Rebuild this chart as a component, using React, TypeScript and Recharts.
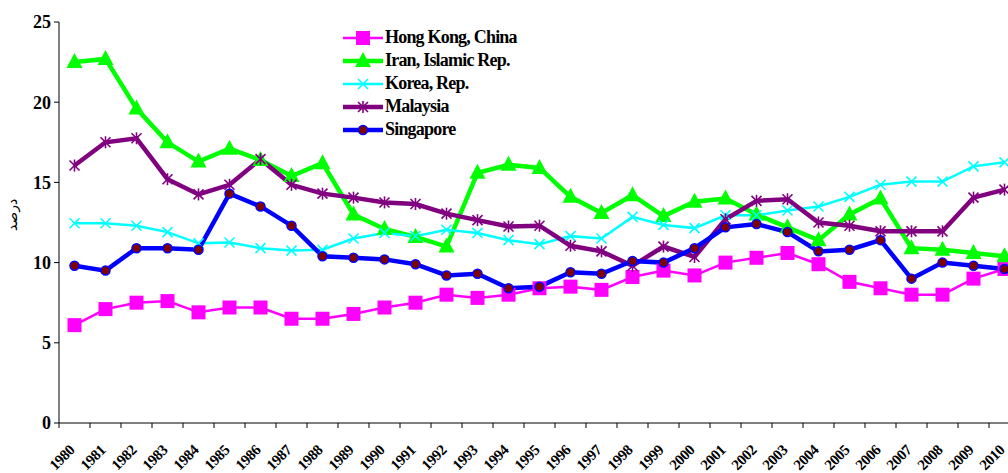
import React from "react";
import { LineChart, Line, XAxis, YAxis } from "recharts";

const years = [
  "1980", "1981", "1982", "1983", "1984", "1985", "1986", "1987", "1988", "1989",
  "1990", "1991", "1992", "1993", "1994", "1995", "1996", "1997", "1998", "1999",
  "2000", "2001", "2002", "2003", "2004", "2005", "2006", "2007", "2008", "2009", "2010",
];

const hongKong = [
  6.1, 7.1, 7.5, 7.6, 6.9, 7.2, 7.2, 6.5, 6.5, 6.8,
  7.2, 7.5, 8.0, 7.8, 8.0, 8.4, 8.5, 8.3, 9.1, 9.5,
  9.2, 10.0, 10.3, 10.6, 9.9, 8.8, 8.4, 8.0, 8.0, 9.0, 9.6,
];
const iran = [
  22.5, 22.7, 19.6, 17.5, 16.3, 17.1, 16.4, 15.4, 16.2, 13.0,
  12.1, 11.6, 11.0, 15.6, 16.1, 15.9, 14.1, 13.1, 14.2, 12.9,
  13.8, 14.0, 13.0, 12.2, 11.4, 13.0, 14.0, 10.9, 10.8, 10.6, 10.4,
];
const korea = [
  12.45, 12.45, 12.3, 11.9, 11.2, 11.25, 10.9, 10.75, 10.8, 11.5,
  11.85, 11.65, 12.05, 11.85, 11.4, 11.15, 11.65, 11.5, 12.85, 12.35,
  12.15, 12.95, 12.95, 13.25, 13.5, 14.1, 14.85, 15.05, 15.05, 16.0, 16.25,
];
const malaysia = [
  16.05, 17.5, 17.75, 15.2, 14.25, 14.85, 16.45, 14.85, 14.3, 14.05,
  13.75, 13.65, 13.05, 12.65, 12.25, 12.3, 11.05, 10.7, 9.8, 11.0,
  10.35, 12.7, 13.85, 13.95, 12.5, 12.3, 11.95, 11.95, 11.95, 14.05, 14.55,
];
const singapore = [
  9.8, 9.5, 10.9, 10.9, 10.8, 14.3, 13.5, 12.3, 10.4, 10.3,
  10.2, 9.9, 9.2, 9.3, 8.4, 8.5, 9.4, 9.3, 10.1, 10.0,
  10.9, 12.2, 12.4, 11.9, 10.7, 10.8, 11.4, 9.0, 10.0, 9.8, 9.6,
];

const yTicks = [0, 5, 10, 15, 20, 25];

const series = [
  { key: "hk", name: "Hong Kong, China", values: hongKong, color: "#FF00FF", width: 2.5, marker: "square" },
  { key: "ir", name: "Iran, Islamic Rep.", values: iran, color: "#00FF00", width: 4.5, marker: "triangle" },
  { key: "kr", name: "Korea, Rep.", values: korea, color: "#00FFFF", width: 2.5, marker: "cross" },
  { key: "my", name: "Malaysia", values: malaysia, color: "#800080", width: 4.5, marker: "star" },
  { key: "sg", name: "Singapore", values: singapore, color: "#0000FF", width: 4.5, marker: "dot" },
];

const data = years.map((year, i) => {
  const row: any = { year };
  series.forEach((s) => (row[s.key] = s.values[i]));
  return row;
});

const serif = '"Liberation Serif", "Times New Roman", serif';
const BAND = 31; // plot width / number of years
const AXIS_Y = 423;

function marker(type: string, color: string, cx: number, cy: number, key?: any) {
  switch (type) {
    case "square":
      return <rect key={key} x={cx - 7} y={cy - 7} width={14} height={14} fill={color} />;
    case "triangle":
      return (
        <polygon key={key} points={`${cx},${cy - 9} ${cx - 8},${cy + 6} ${cx + 8},${cy + 6}`} fill={color} />
      );
    case "cross":
      return (
        <g key={key} stroke={color} strokeWidth={1.6}>
          <line x1={cx - 5} y1={cy - 5} x2={cx + 5} y2={cy + 5} />
          <line x1={cx - 5} y1={cy + 5} x2={cx + 5} y2={cy - 5} />
        </g>
      );
    case "star":
      return (
        <g key={key} stroke={color} strokeWidth={1.6}>
          <line x1={cx - 5} y1={cy - 5} x2={cx + 5} y2={cy + 5} />
          <line x1={cx - 5} y1={cy + 5} x2={cx + 5} y2={cy - 5} />
          <line x1={cx} y1={cy - 6} x2={cx} y2={cy + 6} />
        </g>
      );
    default:
      return <circle key={key} cx={cx} cy={cy} r={4.5} fill="#800000" stroke="#0000FF" strokeWidth={1.5} />;
  }
}

const YearTick = (props: any) => {
  const { x, payload } = props;
  return (
    <g>
      <line x1={x - BAND / 2} y1={AXIS_Y} x2={x - BAND / 2} y2={AXIS_Y + 5} stroke="#000" />
      <text
        x={0}
        y={0}
        transform={`translate(${x + 1},${AXIS_Y + 28}) rotate(-45)`}
        textAnchor="end"
        fontFamily={serif}
        fontWeight="bold"
        fontSize={15}
        letterSpacing={-0.4}
        fill="#000"
      >
        {payload.value}
      </text>
    </g>
  );
};

const LegendBox = () => (
  <div
    style={{
      position: "absolute",
      left: 342,
      top: 26,
      fontFamily: serif,
      fontWeight: "bold",
      fontSize: 18,
      letterSpacing: -0.8,
      color: "#000",
    }}
  >
    {series.map((s) => (
      <div key={s.key} style={{ display: "flex", alignItems: "center", height: 23 }}>
        <svg width={42} height={20} style={{ marginRight: 1 }}>
          <line x1={1} y1={10} x2={41} y2={10} stroke={s.color} strokeWidth={s.width} />
          {marker(s.marker, s.color, 21, 10)}
        </svg>
        <span>{s.name}</span>
      </div>
    ))}
  </div>
);

export default function App() {
  return (
    <div style={{ position: "absolute", left: 0, top: 0, width: 1008, height: 473, overflow: "hidden", background: "#fff" }}>
      <LineChart width={1020} height={473} data={data} margin={{ top: 22, right: 0, bottom: 0, left: 0 }}>
        <XAxis
          dataKey="year"
          scale="band"
          height={50}
          interval={0}
          tickLine={false}
          axisLine={{ stroke: "#000" }}
          tick={<YearTick />}
        />
        <YAxis
          width={59}
          domain={[0, 25]}
          ticks={yTicks}
          tickSize={5}
          tickMargin={3}
          axisLine={{ stroke: "#000" }}
          tickLine={{ stroke: "#000" }}
          tick={{ fontFamily: serif, fontWeight: "bold", fontSize: 18, fill: "#000" }}
          label={() => (
            <text
              x={0}
              y={0}
              transform="translate(17,215) rotate(-90)"
              textAnchor="middle"
              fontFamily='"DejaVu Sans", sans-serif'
              fontSize={14}
              fill="#000"
            >
              درصد
            </text>
          )}
        />
        {series.map((s) => (
          <Line
            key={s.key}
            type="linear"
            dataKey={s.key}
            name={s.name}
            stroke={s.color}
            strokeWidth={s.width}
            isAnimationActive={false}
            dot={(p: any) => marker(s.marker, s.color, p.cx, p.cy, `${s.key}-${p.index}`)}
            activeDot={false}
          />
        ))}
      </LineChart>
      <LegendBox />
    </div>
  );
}
